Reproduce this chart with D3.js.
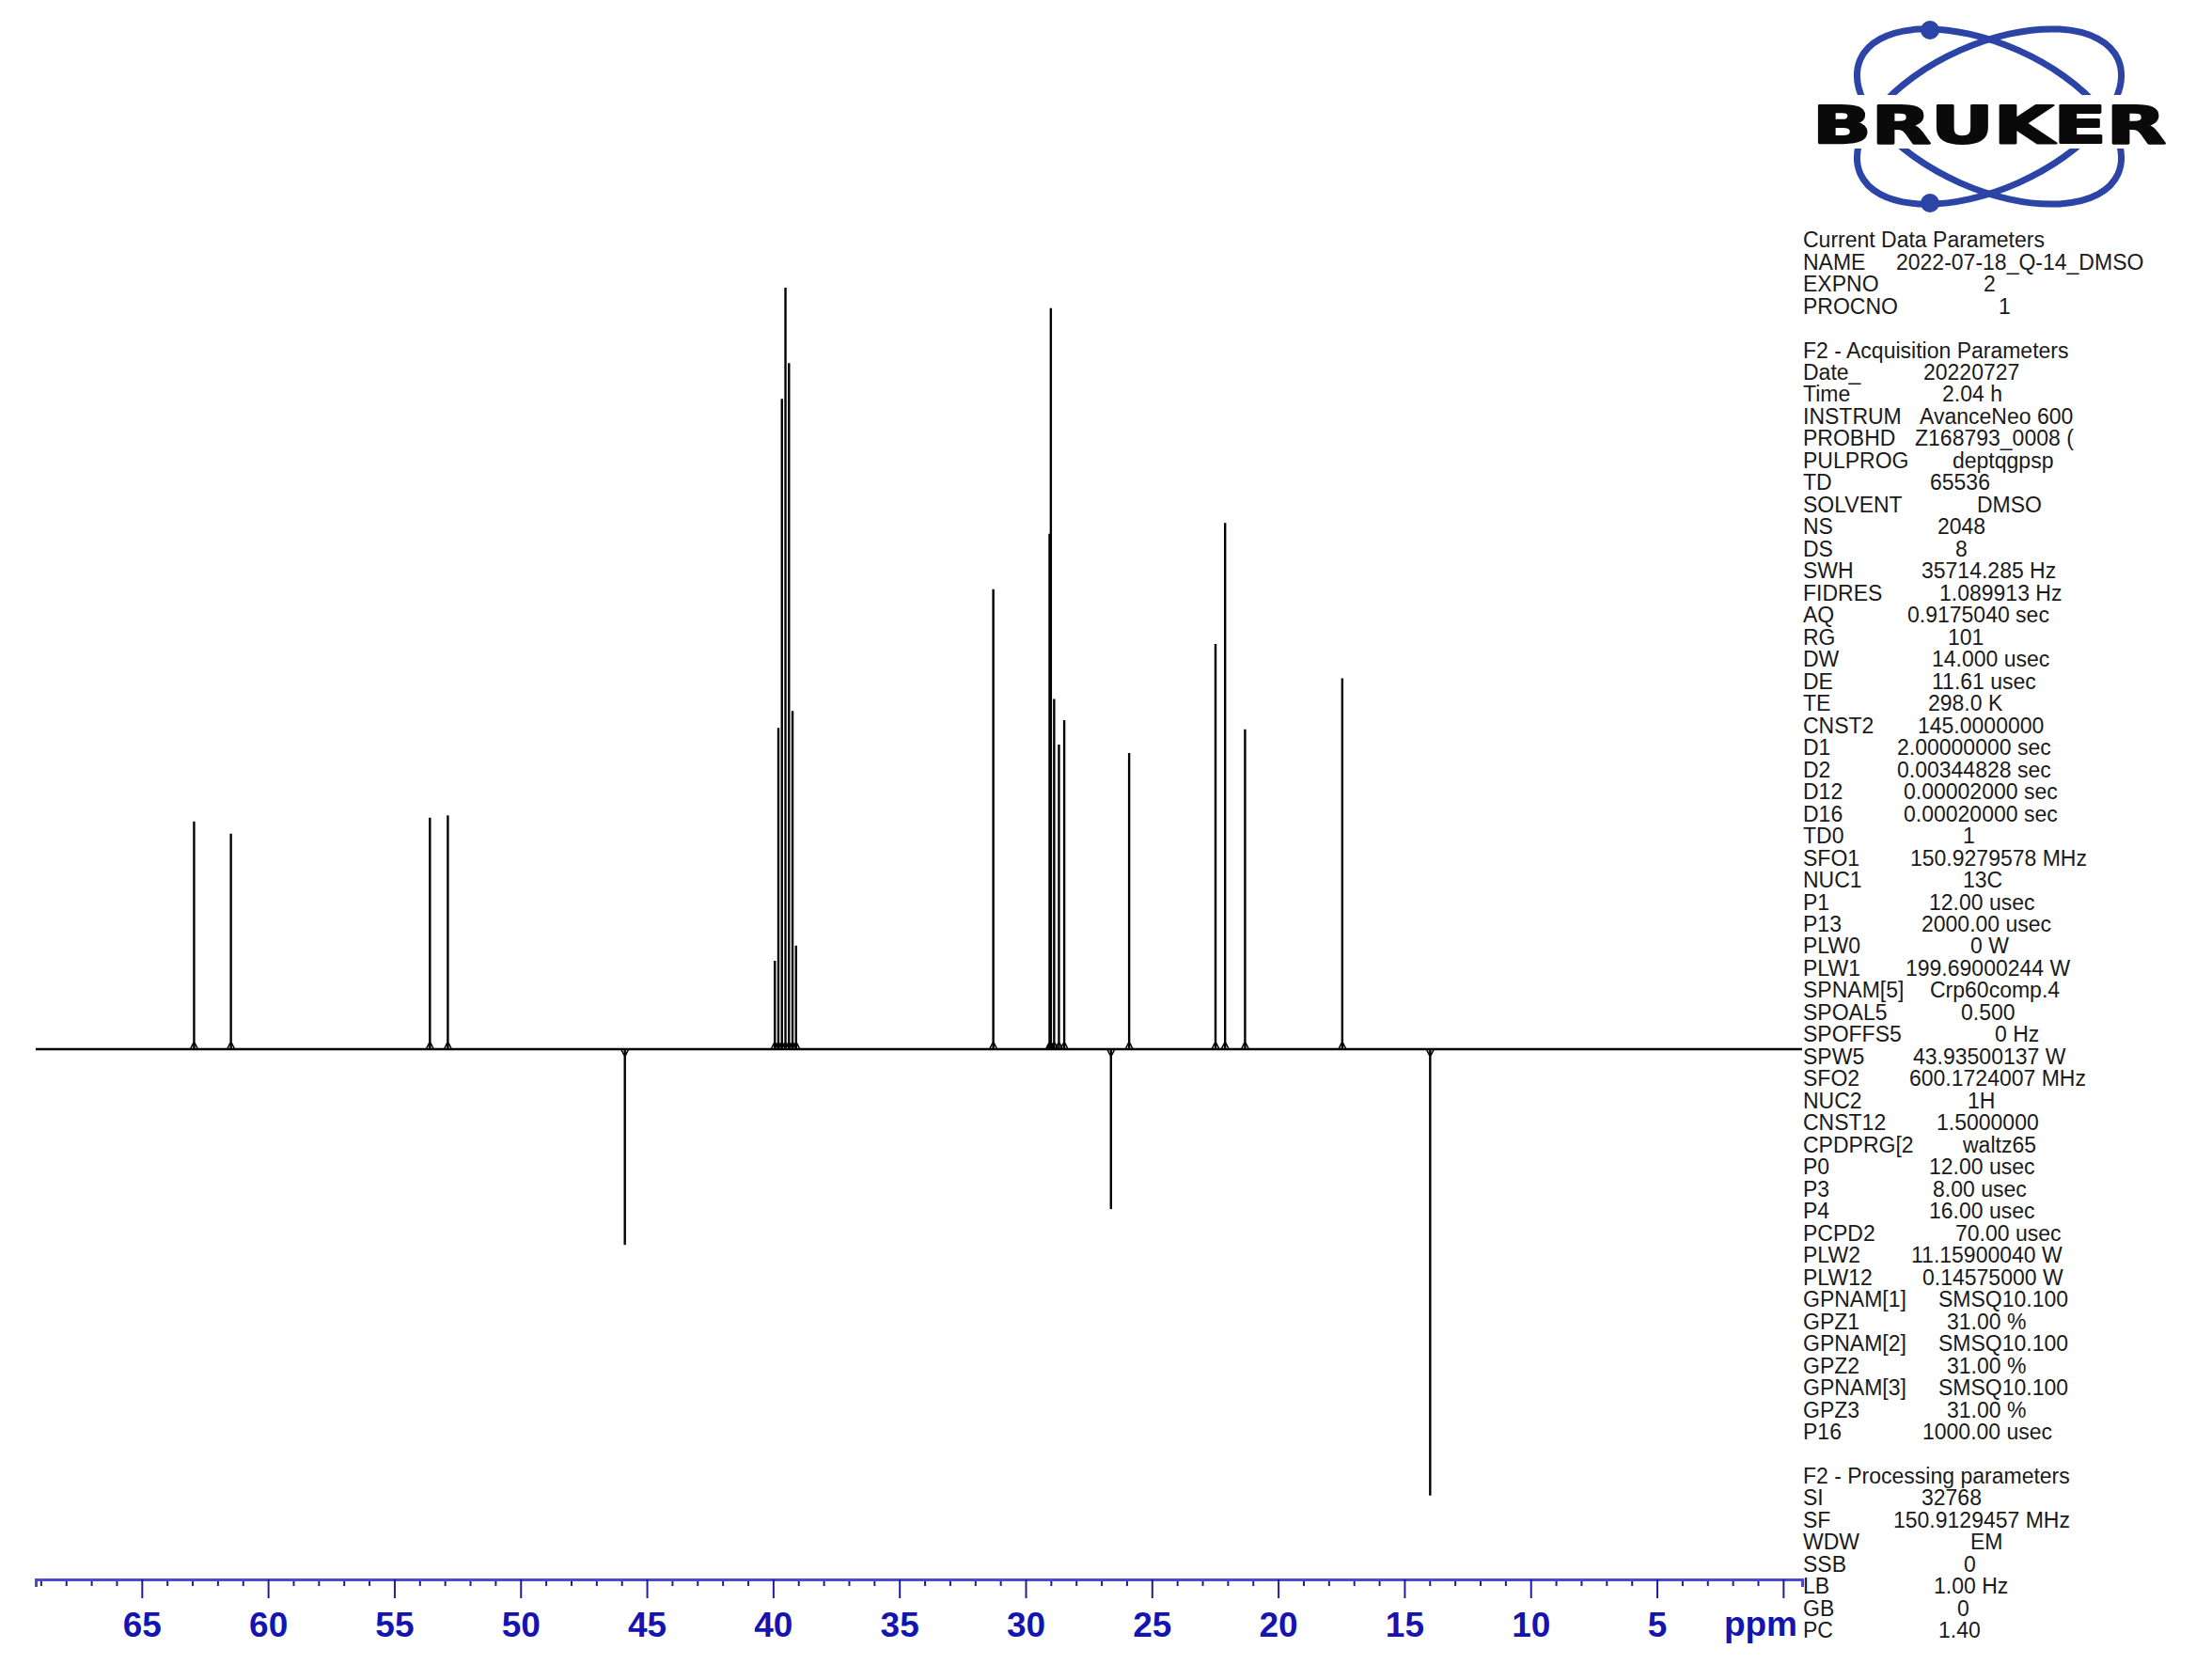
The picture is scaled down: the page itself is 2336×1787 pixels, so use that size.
<!DOCTYPE html>
<html>
<head>
<meta charset="utf-8">
<script src="https://cdn.jsdelivr.net/npm/d3@7"></script>
<style>
  html, body { margin: 0; padding: 0; background: #ffffff; }
  svg { display: block; }
</style>
</head>
<body>
<svg id="chart" width="2336" height="1787"></svg>
<script>
// ---------------- DATA ----------------
// Peak chemical shifts (ppm) and signed intensities (relative units, tallest solvent line = 100)
const peakPpm = [62.93, 61.47, 53.59, 52.88, 45.87,
  39.93, 39.79, 39.65, 39.51, 39.37, 39.23, 39.09,
  31.28, 29.05, 29.00, 28.87, 28.68, 28.47, 26.62, 25.90,
  22.48, 22.10, 21.31, 17.46, 13.98];
const peakIntensity = [29.9, 28.3, 30.4, 30.7, -25.7,
  11.6, 42.2, 85.4, 100, 90.1, 44.4, 13.6,
  60.4, 67.7, 97.3, 46.0, 40.0, 43.2, -21.0, 38.9,
  53.2, 69.1, 42.0, 48.7, -58.6];

const ppmRange = [69.2, -0.75];
const majorTicks = [65, 60, 55, 50, 45, 40, 35, 30, 25, 20, 15, 10, 5, 0];
const majorTickLabels = ["65", "60", "55", "50", "45", "40", "35", "30", "25", "20", "15", "10", "5", ""];
const minorTicks = d3.range(69, -1, -1).filter(v => v % 5 !== 0);
const axisUnit = "ppm";

const paramLabels = ["Current Data Parameters", "NAME", "EXPNO", "PROCNO", "",
  "F2 - Acquisition Parameters", "Date_", "Time", "INSTRUM", "PROBHD", "PULPROG", "TD", "SOLVENT",
  "NS", "DS", "SWH", "FIDRES", "AQ", "RG", "DW", "DE", "TE", "CNST2", "D1", "D2", "D12", "D16",
  "TD0", "SFO1", "NUC1", "P1", "P13", "PLW0", "PLW1", "SPNAM[5]", "SPOAL5", "SPOFFS5", "SPW5",
  "SFO2", "NUC2", "CNST12", "CPDPRG[2", "P0", "P3", "P4", "PCPD2", "PLW2", "PLW12",
  "GPNAM[1]", "GPZ1", "GPNAM[2]", "GPZ2", "GPNAM[3]", "GPZ3", "P16", "",
  "F2 - Processing parameters", "SI", "SF", "WDW", "SSB", "LB", "GB", "PC"];
const paramValues = ["", "2022-07-18_Q-14_DMSO", "2", "1", "",
  "", "20220727", "2.04 h", "AvanceNeo 600", "Z168793_0008 (", "deptqgpsp", "65536", "DMSO",
  "2048", "8", "35714.285 Hz", "1.089913 Hz", "0.9175040 sec", "101", "14.000 usec", "11.61 usec",
  "298.0 K", "145.0000000", "2.00000000 sec", "0.00344828 sec", "0.00002000 sec", "0.00020000 sec",
  "1", "150.9279578 MHz", "13C", "12.00 usec", "2000.00 usec", "0 W", "199.69000244 W",
  "Crp60comp.4", "0.500", "0 Hz", "43.93500137 W", "600.1724007 MHz", "1H", "1.5000000",
  "waltz65", "12.00 usec", "8.00 usec", "16.00 usec", "70.00 usec", "11.15900040 W", "0.14575000 W",
  "SMSQ10.100", "31.00 %", "SMSQ10.100", "31.00 %", "SMSQ10.100", "31.00 %", "1000.00 usec", "",
  "", "32768", "150.9129457 MHz", "EM", "0", "1.00 Hz", "0", "1.40"];

// ---------------- LAYOUT ----------------
const paramValueX = [0, 2017, 2110, 2126, 0,
  0, 2046, 2066, 2042, 2037, 2077, 2053, 2103,
  2061, 2080, 2044, 2063, 2029, 2072, 2055, 2055, 2051, 2040, 2018, 2018, 2025, 2025,
  2088, 2032, 2088, 2052, 2044, 2096, 2027, 2053, 2086, 2122, 2035,
  2031, 2093, 2060, 2088, 2052, 2056, 2052, 2080, 2033, 2045,
  2062, 2071, 2062, 2071, 2062, 2071, 2045, 0,
  0, 2044, 2014, 2096, 2089, 2057, 2082, 2062];

const svg = d3.select("#chart");
const x = d3.scaleLinear().domain(ppmRange).range([38, 1917]);
const y = d3.scaleLinear().domain([0, 100]).range([1116, 306]);

// ---------------- SPECTRUM ----------------
const spec = svg.append("g").attr("stroke", "#000").attr("fill", "none")
  .attr("stroke-linecap", "butt");
spec.append("line")
  .attr("x1", x(ppmRange[0])).attr("x2", x(ppmRange[1]))
  .attr("y1", y(0)).attr("y2", y(0))
  .attr("stroke-width", 2.6);
const peaks = peakPpm.map((p, i) => ({ppm: p, v: peakIntensity[i]}));
spec.selectAll("line.peak").data(peaks).enter().append("line")
  .attr("class", "peak")
  .attr("x1", d => x(d.ppm)).attr("x2", d => x(d.ppm))
  .attr("y1", y(0)).attr("y2", d => y(d.v))
  .attr("stroke-width", 2.4);
// small base broadening of each line
spec.selectAll("path.base").data(peaks).enter().append("path")
  .attr("class", "base")
  .attr("d", d => {
    const s = Math.sign(d.v) || 1;
    const x0 = x(d.ppm), y0 = y(0);
    return `M${x0 - 4},${y0} L${x0 - 1},${y0 - s * 6} L${x0 + 1},${y0 - s * 6} L${x0 + 4},${y0}`;
  })
  .attr("stroke-width", 1.6);

// ---------------- AXIS ----------------
const axisY = 1680;
const majorAxis = d3.axisBottom(x).tickValues(majorTicks)
  .tickFormat((d, i) => majorTickLabels[i])
  .tickSize(20).tickSizeOuter(8).tickPadding(15);
const minorAxis = d3.axisBottom(x).tickValues(minorTicks)
  .tickFormat("").tickSize(7).tickSizeOuter(0);
const gMinor = svg.append("g").attr("transform", `translate(0,${axisY})`).call(minorAxis);
gMinor.select(".domain").remove();
gMinor.selectAll(".tick line").attr("stroke", "#1e1e9a").attr("stroke-width", 2);
const gMajor = svg.append("g").attr("transform", `translate(0,${axisY})`).call(majorAxis);
gMajor.select(".domain").attr("stroke", "#4b4bd2").attr("stroke-width", 3);
gMajor.selectAll(".tick line").attr("stroke", "#1e1e9a").attr("stroke-width", 2);
gMajor.selectAll(".tick text")
  .attr("fill", "#1414b0")
  .attr("font-family", "'Liberation Sans', Arial, sans-serif")
  .attr("font-weight", "bold")
  .attr("font-size", 37);
svg.append("text")
  .attr("x", 1912).attr("y", 1740)
  .attr("text-anchor", "end")
  .attr("fill", "#1414b0")
  .attr("font-family", "'Liberation Sans', Arial, sans-serif")
  .attr("font-weight", "bold").attr("font-size", 37)
  .text(axisUnit);

// ---------------- PARAMETER TEXT ----------------
const tg = svg.append("g")
  .attr("font-family", "'Liberation Sans', Arial, sans-serif")
  .attr("font-size", 23).attr("fill", "#1a1a1a");
paramLabels.forEach((lab, i) => {
  const by = 263.1 + i * 23.48;
  if (lab) tg.append("text").attr("x", 1918).attr("y", by).text(lab);
  if (paramValues[i]) tg.append("text").attr("x", paramValueX[i]).attr("y", by).text(paramValues[i]);
});

// ---------------- LOGO ----------------
const logo = svg.append("g");
const blue = "#2b44a6";
const cx = 2116, cy = 124;
logo.append("ellipse").attr("cx", cx).attr("cy", cy).attr("rx", 150).attr("ry", 77)
  .attr("transform", `rotate(24,${cx},${cy})`)
  .attr("fill", "none").attr("stroke", blue).attr("stroke-width", 7);
logo.append("ellipse").attr("cx", cx).attr("cy", cy).attr("rx", 150).attr("ry", 77)
  .attr("transform", `rotate(-24,${cx},${cy})`)
  .attr("fill", "none").attr("stroke", blue).attr("stroke-width", 7);
logo.append("circle").attr("cx", 2053).attr("cy", 32).attr("r", 10).attr("fill", blue);
logo.append("circle").attr("cx", 2053).attr("cy", 216).attr("r", 10).attr("fill", blue);
logo.append("rect").attr("x", 1920).attr("y", 101).attr("width", 400).attr("height", 57).attr("fill", "#fff");
logo.append("text").attr("x", 1928).attr("y", 152)
  .attr("font-family", "'DejaVu Sans', sans-serif").attr("font-weight", "bold")
  .attr("font-size", 55).attr("fill", "#0a0a0a")
  .attr("stroke", "#0a0a0a").attr("stroke-width", 2.2).attr("stroke-linejoin", "round")
  .attr("textLength", 376).attr("lengthAdjust", "spacingAndGlyphs")
  .text("BRUKER");
</script>
</body>
</html>
